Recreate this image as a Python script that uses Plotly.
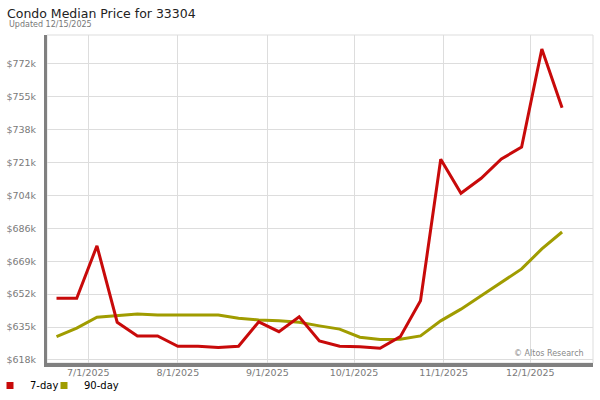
import plotly.graph_objects as go

dates = ["2025-06-20", "2025-06-27", "2025-07-04", "2025-07-11", "2025-07-18", "2025-07-25",
         "2025-08-01", "2025-08-08", "2025-08-15", "2025-08-22", "2025-08-29", "2025-09-05",
         "2025-09-12", "2025-09-19", "2025-09-26", "2025-10-03", "2025-10-10", "2025-10-17",
         "2025-10-24", "2025-10-31", "2025-11-07", "2025-11-14", "2025-11-21", "2025-11-28",
         "2025-12-05", "2025-12-12"]

price_7day = [650100, 650100, 677300, 637600, 630500, 630500, 625100, 625100, 624400, 625100,
              637800, 632700, 640400, 627900, 625100, 624900, 624100, 630100, 648800, 722300,
              704600, 712400, 722500, 728600, 779600, 749100]

price_90day = [630100, 634500, 640200, 641200, 641900, 641400, 641400, 641400, 641400, 639700,
               638800, 638300, 637600, 635700, 634000, 629800, 628600, 628800, 630500, 638300,
               644400, 651400, 658200, 665300, 675700, 684500]

y_tickvals = [618000, 635100, 652200, 669300, 686400, 703500, 720600, 737700, 754800, 771900]
y_ticktext = ["$618k", "$635k", "$652k", "$669k", "$686k", "$704k", "$721k", "$738k", "$755k", "$772k"]

x_tickvals = ["2025-07-01", "2025-08-01", "2025-09-01", "2025-10-01", "2025-11-01", "2025-12-01"]
x_ticktext = ["7/1/2025", "8/1/2025", "9/1/2025", "10/1/2025", "11/1/2025", "12/1/2025"]

RED = "#C80A0A"
OLIVE = "#A09C00"
FONT = "DejaVu Sans"

# plot area in pixels
L, R, T, B = 47, 593, 35, 363
PW, PH = R - L, B - T


def px_x(x):
    return (x - L) / PW


def px_y(y):
    return (B - y) / PH


fig = go.Figure()
fig.add_trace(go.Scatter(x=dates, y=price_90day, mode="lines", name="90-day",
                         line=dict(color=OLIVE, width=3), showlegend=False))
fig.add_trace(go.Scatter(x=dates, y=price_7day, mode="lines", name="7-day",
                         line=dict(color=RED, width=3), showlegend=False))
# legend entries (square swatches)
fig.add_trace(go.Scatter(x=[None], y=[None], mode="markers", name="7-day", legend="legend",
                         marker=dict(color=RED, symbol="square", size=7)))
fig.add_trace(go.Scatter(x=[None], y=[None], mode="markers", name="90-day", legend="legend2",
                         marker=dict(color=OLIVE, symbol="square", size=7)))

legend_common = dict(orientation="h", xanchor="left", yanchor="middle", y=px_y(385.5),
                     font=dict(family=FONT, size=10, color="#000"),
                     itemwidth=30, bgcolor="rgba(0,0,0,0)", borderwidth=0)

fig.update_layout(
    width=600, height=400,
    margin=dict(l=L, r=600 - R, t=T, b=400 - B, autoexpand=False),
    paper_bgcolor="white", plot_bgcolor="white",
    font=dict(family=FONT, size=10, color="#000"),
    title=dict(text="Condo Median Price for 33304", x=7/600, xref="container", xanchor="left",
               y=1 - 13.5/400, yref="container", yanchor="middle",
               font=dict(family=FONT, size=12.5, color="#222")),
    showlegend=True,
    legend=dict(x=px_x(-10), **legend_common),
    legend2=dict(x=px_x(44), **legend_common),
    xaxis=dict(range=["2025-06-16 17:00", "2025-12-22 17:00"], type="date",
               tickvals=x_tickvals, ticktext=x_ticktext,
               showgrid=True, gridcolor="#DDDDDD", gridwidth=1,
               showline=True, linecolor="#808080", linewidth=4,
               ticks="", ticklabelstandoff=-2,
               tickfont=dict(family=FONT, size=9.5, color="#7a7a7a"),
               zeroline=False, automargin=False),
    yaxis=dict(range=[616400, 786900],
               tickvals=y_tickvals, ticktext=y_ticktext,
               showgrid=True, gridcolor="#DDDDDD", gridwidth=1,
               showline=True, linecolor="#808080", linewidth=3,
               ticks="", ticklabelstandoff=6,
               tickfont=dict(family=FONT, size=9.5, color="#7a7a7a"),
               zeroline=False, automargin=False),
    shapes=[dict(type="rect", xref="paper", yref="paper", x0=0, x1=1, y0=0, y1=1,
                 line=dict(color="#DDDDDD", width=1), layer="below")],
    annotations=[
        dict(text="Updated 12/15/2025", xref="paper", yref="paper",
             x=px_x(7), y=px_y(24.5), xanchor="left", yanchor="middle",
             showarrow=False, font=dict(family=FONT, size=8, color="#777")),
        dict(text="© Altos Research", xref="paper", yref="paper",
             x=px_x(586), y=px_y(353), xanchor="right", yanchor="middle",
             showarrow=False, font=dict(family=FONT, size=8, color="#888")),
    ],
)

fig.write_html("out.html", config={"displayModeBar": False},
               post_script="document.body.style.margin='0px';")
